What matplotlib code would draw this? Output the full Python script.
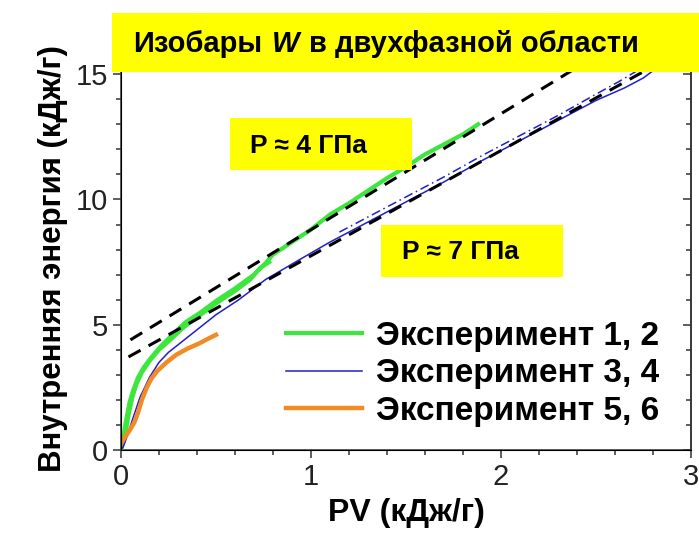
import matplotlib
matplotlib.use("Agg")
import matplotlib.pyplot as plt
from matplotlib.patches import Rectangle
from matplotlib.offsetbox import TextArea, HPacker, AnchoredOffsetbox
from matplotlib.ticker import MultipleLocator

plt.rcParams['font.family'] = ['Liberation Sans', 'DejaVu Sans']

# изобара ~4 ГПа, эксперименты 1 и 2
pv_exp1 = [0, 0.01, 0.025, 0.045, 0.065, 0.09, 0.12, 0.16, 0.21, 0.27, 0.34, 0.42,
           0.5, 0.6, 0.7, 0.76, 0.8, 0.9, 1.0, 1.1, 1.2, 1.3, 1.4, 1.5, 1.6, 1.7,
           1.8, 1.88]
w_exp1 = [0, 0.4, 1.1, 1.9, 2.4, 2.9, 3.3, 3.7, 4.15, 4.6, 5.1, 5.5,
          5.95, 6.45, 7.0, 7.45, 7.8, 8.3, 8.8, 9.4, 9.85, 10.35, 10.85, 11.3, 11.8, 12.2,
          12.6, 13.0]
pv_exp2 = [0, 0.02, 0.04, 0.06, 0.08, 0.11, 0.15, 0.2, 0.26, 0.33, 0.41, 0.5,
           0.6, 0.68, 0.73, 0.78]
w_exp2 = [0, 0.5, 1.4, 2.1, 2.6, 3.1, 3.55, 4.0, 4.4, 4.9, 5.35, 5.85,
          6.35, 6.8, 7.25, 7.5]

# изобара ~7 ГПа, эксперименты 3 и 4
pv_exp3 = [0, 0.01, 0.03, 0.06, 0.1, 0.15, 0.2, 0.25, 0.3, 0.4, 0.5, 0.62, 0.76,
           0.94, 1.1, 1.3, 1.5, 1.7, 1.9, 2.1, 2.3, 2.5, 2.65, 2.75, 2.82]
w_exp3 = [0, 0.1, 0.5, 1.2, 2.1, 2.9, 3.5, 3.9, 4.2, 4.8, 5.4, 6.0, 6.8,
          7.6, 8.3, 9.1, 9.9, 10.7, 11.55, 12.35, 13.15, 13.95, 14.45, 14.85, 15.25]
pv_exp4 = [1.15, 1.3, 1.5, 1.7, 1.9, 2.1, 2.3, 2.5, 2.62, 2.72, 2.8]
w_exp4 = [8.7, 9.3, 10.1, 10.9, 11.75, 12.55, 13.35, 14.2, 14.7, 15.15, 15.5]

# эксперименты 5 и 6
pv_exp5 = [0, 0.02, 0.047, 0.07, 0.09, 0.11, 0.136, 0.16, 0.19, 0.24, 0.29,
           0.35, 0.41, 0.46, 0.5]
w_exp5 = [0.25, 0.5, 0.8, 1.1, 1.5, 2.0, 2.5, 2.85, 3.15, 3.5, 3.8,
          4.05, 4.25, 4.45, 4.6]

# линейные аппроксимации изобар
fit4_pv = [0.05, 2.45]
fit4_w = [4.4, 15.5]
fit7_pv = [0.04, 2.9]
fit7_w = [3.72, 15.73]

GREEN = '#3de63d'
BLUE = '#1f1fcc'
ORANGE = '#f28a26'
YELLOW = '#ffff00'

fig = plt.figure(figsize=(6.99, 5.43), dpi=100)
ax = fig.add_axes([0.173, 0.171, 0.8155, 0.7063])

dash = (0, (4.5, 3.0))
ax.plot(fit4_pv, fit4_w, color='black', lw=2.2, linestyle=dash, zorder=4)
ax.plot(fit7_pv, fit7_w, color='black', lw=2.2, linestyle=dash, zorder=4)

ax.plot(pv_exp1, w_exp1, color=GREEN, lw=3.0, label='Эксперимент 1, 2', zorder=3)
ax.plot(pv_exp2, w_exp2, color=GREEN, lw=3.0, zorder=3)
ax.plot(pv_exp3, w_exp3, color=BLUE, lw=1.1, label='Эксперимент 3, 4', zorder=3)
ax.plot(pv_exp4, w_exp4, color=BLUE, lw=1.1, linestyle=(0, (6, 2.5, 1, 2.5)), zorder=3)
ax.plot(pv_exp5, w_exp5, color=ORANGE, lw=3.2, label='Эксперимент 5, 6', zorder=3)

ax.set_xlim(0, 3)
ax.set_ylim(0, 15.3)
ax.xaxis.set_major_locator(MultipleLocator(1))
ax.xaxis.set_minor_locator(MultipleLocator(0.2))
ax.yaxis.set_major_locator(MultipleLocator(5))
ax.yaxis.set_minor_locator(MultipleLocator(1))
ax.tick_params(which='both', direction='out', labelsize=21, color='#333333',
               labelcolor='#222222', width=1.1, pad=3)
ax.tick_params(which='major', length=6)
ax.tick_params(which='minor', length=3.6)
ax.spines['top'].set_visible(False)
for s in ax.spines.values():
    s.set_linewidth(1.1)
    s.set_color('#333333')

# правая ось с внутренними рисками
ax2 = ax.twinx()
ax2.set_ylim(ax.get_ylim())
ax2.yaxis.set_major_locator(MultipleLocator(5))
ax2.yaxis.set_minor_locator(MultipleLocator(1))
ax2.tick_params(which='both', direction='in', labelright=False, color='#333333', width=1.1)
ax2.tick_params(which='major', length=6)
ax2.tick_params(which='minor', length=3.6)
ax2.spines['top'].set_visible(False)
ax2.spines['right'].set_linewidth(1.1)
ax2.spines['right'].set_color('#333333')

ax.set_xlabel('PV (кДж/г)', fontsize=23, fontweight='bold', labelpad=5)
ax.set_ylabel('Внутренняя энергия (кДж/г)', fontsize=22.5, fontweight='bold', labelpad=6)

leg = ax.legend(loc='lower right', bbox_to_anchor=(0.967, 0.026), frameon=False,
                prop={'size': 24, 'weight': 'bold'}, handlelength=2.3,
                handletextpad=0.4, labelspacing=0.2, borderaxespad=0)

# подписи изобар на жёлтых плашках
ax.add_patch(Rectangle((0.574, 11.16), 0.956, 2.08, fc=YELLOW, ec='none', zorder=5))
ax.text(0.68, 12.15, 'P ≈ 4 ГПа', fontsize=19, fontweight='bold',
        ha='left', va='center', zorder=6)
ax.add_patch(Rectangle((1.368, 6.92), 0.958, 2.08, fc=YELLOW, ec='none', zorder=5))
ax.text(1.479, 7.9, 'P ≈ 7 ГПа', fontsize=19, fontweight='bold',
        ha='left', va='center', zorder=6)

# заголовок на жёлтой плашке
fig.patches.append(Rectangle((0.160, 0.867), 0.84, 0.109, transform=fig.transFigure,
                             fc=YELLOW, ec='none', zorder=10))
title_parts = [
    TextArea('Изобары', textprops=dict(fontsize=21, fontweight='bold')),
    TextArea('W', textprops=dict(fontsize=21, fontweight='bold', style='italic')),
    TextArea('в двухфазной области', textprops=dict(fontsize=21, fontweight='bold')),
]
title = AnchoredOffsetbox(loc='center left', child=HPacker(children=title_parts, sep=7, pad=0),
                          frameon=False, bbox_to_anchor=(0.19, 0.919),
                          bbox_transform=fig.transFigure, borderpad=0, pad=0)
title.set_zorder(11)
fig.add_artist(title)

fig.savefig('out.png', dpi=100)
